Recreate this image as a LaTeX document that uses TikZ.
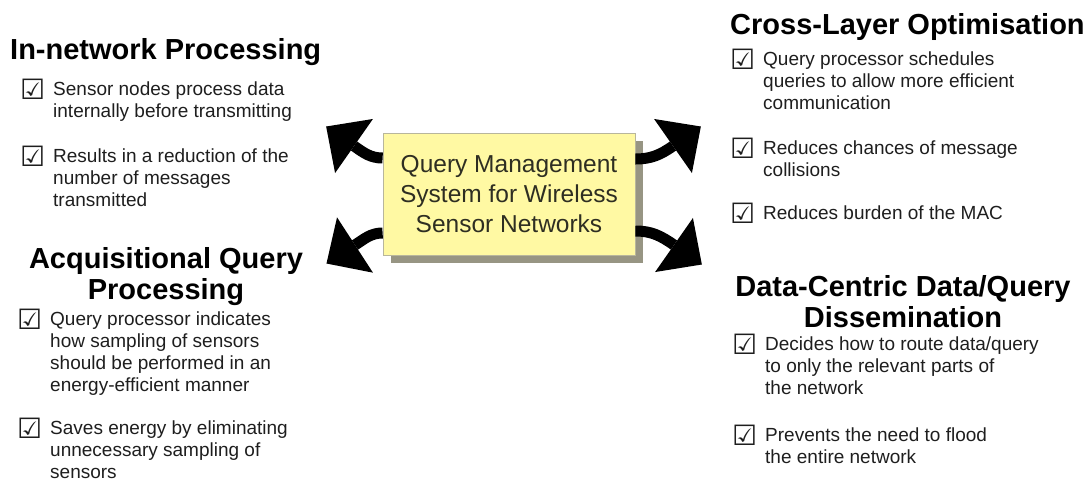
\documentclass[tikz,border=0pt]{standalone}
\usepackage{fontspec}
\setmainfont{Liberation Sans}
\newfontfamily\boxsymfont{DejaVu Sans}
\usetikzlibrary{positioning,arrows.meta,shadows}
\definecolor{noteYellow}{HTML}{FFF9A3}
\definecolor{noteLine}{HTML}{B8B69C}
\definecolor{noteShadow}{HTML}{979583}
\definecolor{noteText}{HTML}{2E2E22}
\definecolor{inkDark}{HTML}{1E1E1E}
\newcommand{\ballot}{\llap{\smash{\raisebox{-4.5pt}{\boxsymfont\fontsize{28}{28}\selectfont ☑}}\hspace{8pt}}}
\tikzset{
    heading/.style={inner sep=0pt,align=center,font=\fontsize{29}{31}\selectfont\bfseries,text=black},
    point/.style={inner sep=0pt,anchor=north west,align=left,
        font=\fontsize{19}{22}\selectfont,text=inkDark},
    note/.style={draw=noteLine,line width=0.8pt,fill=noteYellow,
        minimum width=252pt,minimum height=122pt,align=center,
        font=\fontsize{24.5}{30}\selectfont,text=noteText,
        drop shadow={shadow xshift=8pt,shadow yshift=-8pt,fill=noteShadow,opacity=1}},
    burst/.style={-{Triangle[length=34pt,width=66pt,line width=0pt]},
        line width=11pt,draw=black,shorten >=-34pt}
}

\begin{document}
\begin{tikzpicture}[x=1pt,y=1pt]
    \useasboundingbox (0,0) rectangle (1087,-483);

    \node[note] (qms) at (509,-194)
        {Query Management\\System for Wireless\\Sensor Networks};

    \coordinate (headTL) at (354,-146);
    \coordinate (headBL) at (355,-245);
    \coordinate (headTR) at (673,-146);
    \coordinate (headBR) at (674,-245);
    \draw[burst] ([yshift=36pt]qms.west) to[out=180,in=-35] (headTL);
    \draw[burst] ([yshift=-39pt]qms.west) to[out=180,in=33] (headBL);
    \draw[burst] ([yshift=35pt]qms.east) to[out=0,in=-145] (headTR);
    \draw[burst] ([yshift=-37pt]qms.east) to[out=0,in=145] (headBR);

    \node[heading,anchor=north west] (innet) at (10,-37.3) {\strut In-network Processing};
    \node[point] (innetA) at (53,-79.6)
        {\ballot\strut Sensor nodes process data\\internally before transmitting};
    \node[point] (innetB) at (53,-146.6)
        {\ballot\strut Results in a reduction of the\\number of messages\\transmitted};

    \node[heading,anchor=north] (acq) at (166,-246.3) {\strut Acquisitional Query\\Processing};
    \node[point] (acqA) at (50,-309.6)
        {\ballot\strut Query processor indicates\\how sampling of sensors\\should be performed in an\\energy-efficient manner};
    \node[point] (acqB) at (50,-418.6)
        {\ballot\strut Saves energy by eliminating\\unnecessary sampling of\\sensors};

    \node[heading,anchor=north west] (cross) at (730,-12.3) {\strut Cross-Layer Optimisation};
    \node[point] (crossA) at (763,-49.6)
        {\ballot\strut Query processor schedules\\queries to allow more efficient\\communication};
    \node[point] (crossB) at (763,-138.6)
        {\ballot\strut Reduces chances of message\\collisions};
    \node[point] (crossC) at (763,-203.6)
        {\ballot\strut Reduces burden of the MAC};

    \node[heading,anchor=north] (dcd) at (903,-274.3) {\strut Data-Centric Data/Query\\Dissemination};
    \node[point] (dcdA) at (765,-334.6)
        {\ballot\strut Decides how to route data/query\\to only the relevant parts of\\the network};
    \node[point] (dcdB) at (765,-425.6)
        {\ballot\strut Prevents the need to flood\\the entire network};
\end{tikzpicture}
\end{document}
